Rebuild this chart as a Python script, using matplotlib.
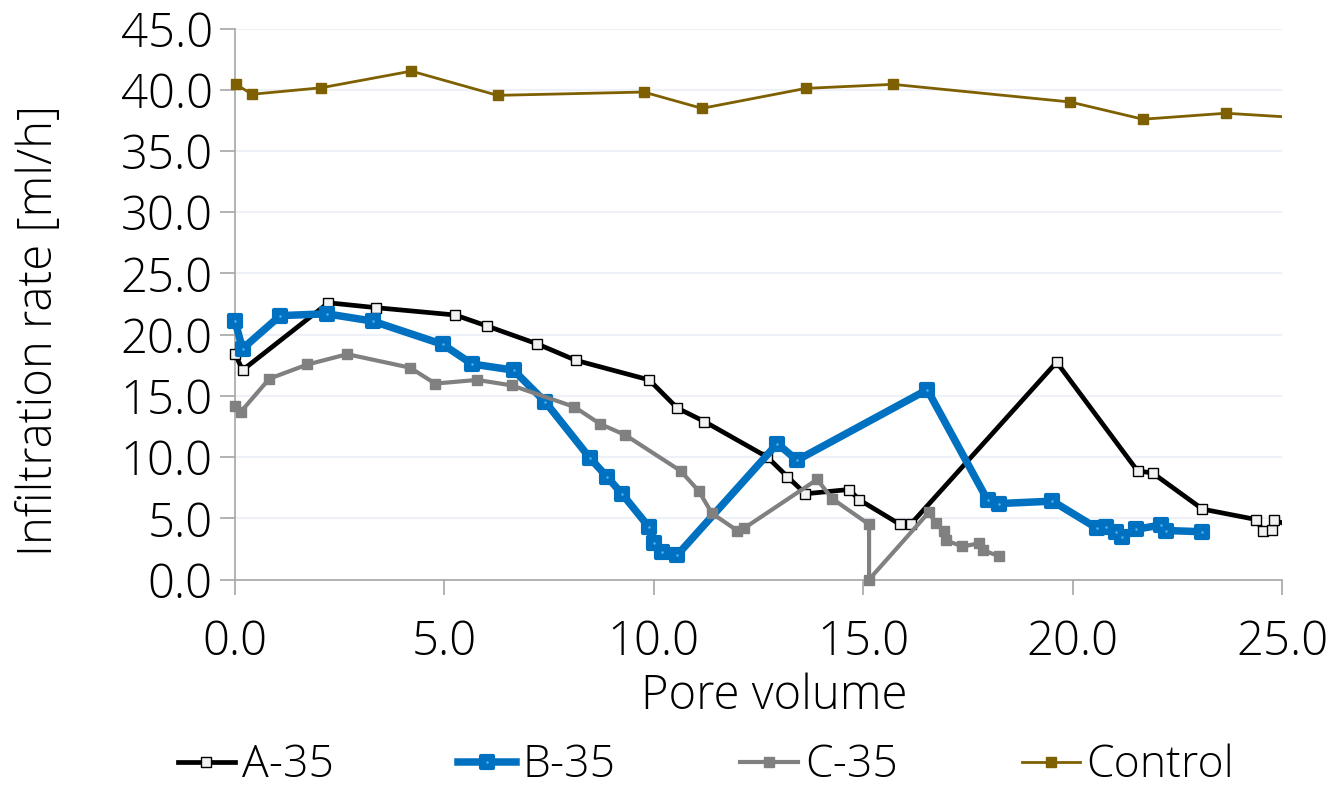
import matplotlib
matplotlib.use("Agg")
import matplotlib.pyplot as plt
from matplotlib.markers import MarkerStyle
from matplotlib.patches import Rectangle
from matplotlib.legend_handler import HandlerTuple

# ---- data ----
a35_x = [0.00, 0.18, 2.23, 3.37, 5.26, 6.02, 7.21, 8.14, 9.89, 10.56, 11.21, 12.71, 13.19, 13.62,
         14.66, 14.91, 15.88, 16.13, 19.62, 21.55, 21.91, 23.10, 24.38, 24.54, 24.75, 24.80, 25.4]
a35_y = [18.45, 17.1, 22.6, 22.2, 21.6, 20.7, 19.25, 17.9, 16.3, 14.0, 12.9, 10.0, 8.4, 7.0,
         7.35, 6.5, 4.5, 4.5, 17.75, 8.87, 8.7, 5.75, 4.9, 4.0, 4.05, 4.85, 4.2]

b35_x = [0.00, 0.18, 1.08, 2.19, 3.29, 4.96, 5.66, 6.65, 7.41, 8.48, 8.88, 9.24, 9.88, 10.00,
         10.20, 10.56, 12.95, 13.42, 16.53, 17.97, 18.24, 19.52, 20.59, 20.79, 21.03, 21.19,
         21.51, 22.11, 22.24, 23.10]
b35_y = [21.1, 18.85, 21.55, 21.7, 21.1, 19.2, 17.6, 17.1, 14.5, 9.9, 8.4, 7.0, 4.3, 2.95,
         2.27, 2.0, 11.1, 9.74, 15.5, 6.48, 6.2, 6.4, 4.17, 4.3, 3.9, 3.5,
         4.1, 4.45, 4.0, 3.9]

c35_x = [0.00, 0.14, 0.82, 1.73, 2.68, 4.18, 4.78, 5.78, 6.61, 8.10, 8.72, 9.32, 10.64, 11.07,
         11.39, 11.99, 12.15, 13.90, 14.26, 15.14, 15.14, 16.57, 16.73, 16.93, 16.97, 17.37,
         17.77, 17.85, 18.25]
c35_y = [14.2, 13.7, 16.4, 17.56, 18.4, 17.3, 16.0, 16.3, 15.85, 14.1, 12.7, 11.8, 8.87, 7.24,
         5.4, 4.0, 4.17, 8.17, 6.6, 4.5, 0.0, 5.5, 4.6, 4.0, 3.2, 2.7,
         2.95, 2.4, 1.9]

ctrl_x = [0.02, 0.41, 2.06, 4.21, 6.27, 9.76, 11.15, 13.63, 15.71, 19.94, 21.68, 23.66, 26.0]
ctrl_y = [40.44, 39.63, 40.16, 41.52, 39.54, 39.81, 38.48, 40.11, 40.44, 39.0, 37.59, 38.08, 37.59]

series_labels = ["A-35", "B-35", "C-35", "Control"]
x_ticks = [0, 5, 10, 15, 20, 25]
y_ticks = [0, 5, 10, 15, 20, 25, 30, 35, 40, 45]

# ---- style ----
plt.rcParams['font.family'] = ['Open Sans', 'DejaVu Sans']
FS = 34
LFS = 32
fig = plt.figure(figsize=(13.32, 7.90), dpi=100)
ax = fig.add_axes([235/1332, 1 - 579.5/790, (1282-235)/1332, (579.5-28.5)/790])

clip = Rectangle((-0.03, -0.06), 1.03, 1.12, transform=ax.transAxes, facecolor='none', edgecolor='none')

ha, = ax.plot(a35_x, a35_y, color='black', lw=3.4, marker='s', ms=7.2,
              mfc='#F2F2F2', mec='black', mew=1.0, label=series_labels[0], zorder=3)
blue = '#0070C0'
hb, = ax.plot(b35_x, b35_y, color=blue, lw=5.4, solid_joinstyle='round',
              marker=MarkerStyle('s', joinstyle='round'), ms=8.5, mfc=blue, mec=blue, mew=3.0,
              label=series_labels[1], zorder=4)
hbd, = ax.plot(b35_x, b35_y, ls='none', marker='o', ms=1.8, mfc='#4FB3F0', mec='none', zorder=4.5)
hc, = ax.plot(c35_x, c35_y, color='#808080', lw=3.0, marker='s', ms=7.2,
              mfc='#808080', mec='#808080', label=series_labels[2], zorder=5)
hd, = ax.plot(ctrl_x, ctrl_y, color='#7F6000', lw=2.0, marker='s', ms=7.5,
              mfc='#7F6000', mec='#7F6000', label=series_labels[3], zorder=6)
for h in (ha, hb, hbd, hc, hd):
    h.set_clip_path(clip)

ax.set_xlim(0, 25)
ax.set_ylim(0, 45)
ax.set_xticks(x_ticks)
ax.set_yticks(y_ticks)
ax.set_xticklabels([f"{v:.1f}" for v in x_ticks])
ax.set_yticklabels([f"{v:.1f}" for v in y_ticks])
ax.yaxis.grid(True, color='#EEF2F8', lw=1.5, zorder=0)
ax.set_axisbelow(True)
for s in ['top', 'right']:
    ax.spines[s].set_visible(False)
for s in ['left', 'bottom']:
    ax.spines[s].set_color('#A6A6A6')
    ax.spines[s].set_linewidth(1.2)
ax.tick_params(axis='both', direction='out', length=11, width=1.2, color='#A6A6A6',
               labelsize=FS, labelcolor='black')
ax.tick_params(axis='x', pad=17)
ax.tick_params(axis='y', pad=5)
for lbl in ax.get_xticklabels() + ax.get_yticklabels():
    lbl.set_fontweight('light')

xl = ax.set_xlabel("Pore volume", fontsize=FS, fontweight='light')
yl = ax.set_ylabel("Infiltration rate [ml/h]", fontsize=FS, fontweight='light')
ax.xaxis.set_label_coords((774-235)/1047, (579.5-697)/551)
ax.yaxis.set_label_coords((40-235)/1047, (579.5-330)/551)
xl.set_va('center')
yl.set_va('center')

leg = fig.legend([ha, (hb, hbd), hc, hd], series_labels, loc='center',
                 bbox_to_anchor=(706/1332, 1 - 766/790), ncol=4, frameon=False,
                 prop={'size': LFS, 'weight': 'light'}, handlelength=1.3, handletextpad=0.15,
                 columnspacing=2.8, borderpad=0.0, handler_map={tuple: HandlerTuple(ndivide=1)})

fig.savefig("out.png", dpi=100)
